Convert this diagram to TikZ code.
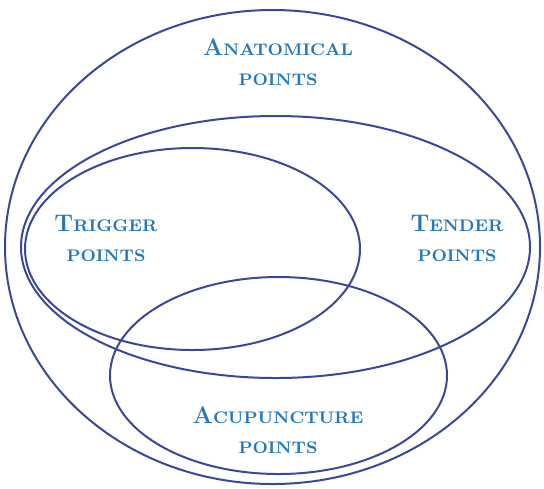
\documentclass[tikz,border=0pt]{standalone}
\usepackage{xcolor}
\usetikzlibrary{positioning}

\definecolor{ringblue}{RGB}{58,72,152}
\definecolor{labelblue}{RGB}{36,120,186}

% fake small caps: first letter large, rest small
\newcommand{\scword}[2]{{\fontsize{12}{15}\selectfont #1}#2}

\begin{document}
\begin{tikzpicture}[
  x=0.5pt, y=-0.5pt,
  ring/.style={draw=ringblue, line width=1pt},
  lbl/.style={text=labelblue, align=center, inner sep=0pt,
    font=\bfseries\fontsize{8.4}{15}\selectfont}
]
  \useasboundingbox (0,0) rectangle (544,488);

  % Sets
  \draw[ring] (272.5,247) ellipse [x radius=267.5, y radius=237];
  \draw[ring] (275.5,247) ellipse [x radius=254.5, y radius=131];
  \draw[ring] (192.5,249) ellipse [x radius=167.5, y radius=101];
  \draw[ring] (278.5,375.5) ellipse [x radius=168.5, y radius=98.5];

  % Labels
  \node[lbl] (anat) at (278,62) {\scword{A}{NATOMICAL}\\POINTS};
  \node[lbl] (trig) at (106,238) {\scword{T}{RIGGER}\\POINTS};
  \node[lbl] (tend) at (457,238) {\scword{T}{ENDER}\\POINTS};
  \node[lbl] (acup) at (278,430) {\scword{A}{CUPUNCTURE}\\POINTS};
\end{tikzpicture}
\end{document}
